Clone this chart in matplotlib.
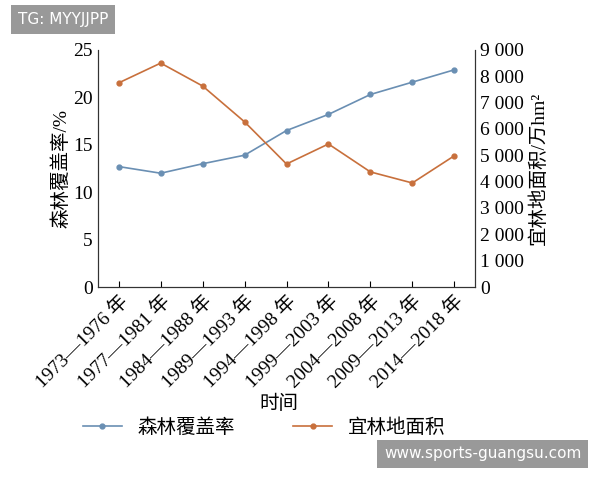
import matplotlib
matplotlib.use("Agg")
from matplotlib import pyplot as plt
from matplotlib.ticker import FuncFormatter

plt.rcParams['font.family'] = ['Liberation Serif', 'Noto Sans CJK SC']

periods = ['1973—1976 年', '1977—1981 年', '1984—1988 年', '1989—1993 年', '1994—1998 年',
           '1999—2003 年', '2004—2008 年', '2009—2013 年', '2014—2018 年']
coverage = [12.7, 12.0, 13.0, 13.9, 16.5, 18.2, 20.3, 21.6, 22.9]
suitable = [7750, 8500, 7630, 6270, 4670, 5430, 4370, 3950, 4980]

blue = '#6a8fb3'
orange = '#c8703c'

fig = plt.figure(figsize=(6, 4.8), dpi=100)
ax = fig.add_axes([0.163, 0.402, 0.629, 0.494])
x = list(range(len(periods)))
l1, = ax.plot(x, coverage, '-o', color=blue, ms=3.5, lw=1.2, label='森林覆盖率')
ax2 = ax.twinx()
l2, = ax2.plot(x, suitable, '-o', color=orange, ms=3.5, lw=1.2, label='宜林地面积')

ax.set_xlim(-0.5, len(periods) - 0.5)
ax.set_ylim(0, 25)
ax2.set_ylim(0, 9000)
ax.set_yticks(range(0, 26, 5))
ax2.set_yticks(range(0, 9001, 1000))
ax2.yaxis.set_major_formatter(FuncFormatter(lambda v, p: f'{int(v):,}'.replace(',', ' ')))
ax.set_xticks(x)
ax.set_xticklabels(periods, rotation=45, ha='right', rotation_mode='anchor', fontsize=13)
for a in (ax, ax2):
    a.tick_params(labelsize=14, length=0)
    for s in a.spines.values():
        s.set_color('#333333')
    a.spines['top'].set_visible(False)
ax.tick_params(axis='x', length=4, direction='in')
ax.set_ylabel('森林覆盖率/%', fontsize=14, labelpad=2)
ax2.set_ylabel('宜林地面积/万hm²', fontsize=14, labelpad=4)
fig.text(0.465, 0.148, '时间', fontsize=14, ha='center')
fig.legend(handles=[l1, l2], loc='center', bbox_to_anchor=(0.44, 0.11), ncol=2,
           frameon=False, fontsize=14, columnspacing=3, handlelength=2)

fig.text(0.03, 0.95, 'TG: MYYJJPP', fontsize=11, color='white', family='DejaVu Sans',
         bbox=dict(facecolor='#999999', edgecolor='none', pad=5))
fig.text(0.64, 0.045, 'www.sports-guangsu.com', fontsize=11, color='white', family='DejaVu Sans',
         bbox=dict(facecolor='#999999', edgecolor='none', pad=5))

fig.savefig('out.png')
